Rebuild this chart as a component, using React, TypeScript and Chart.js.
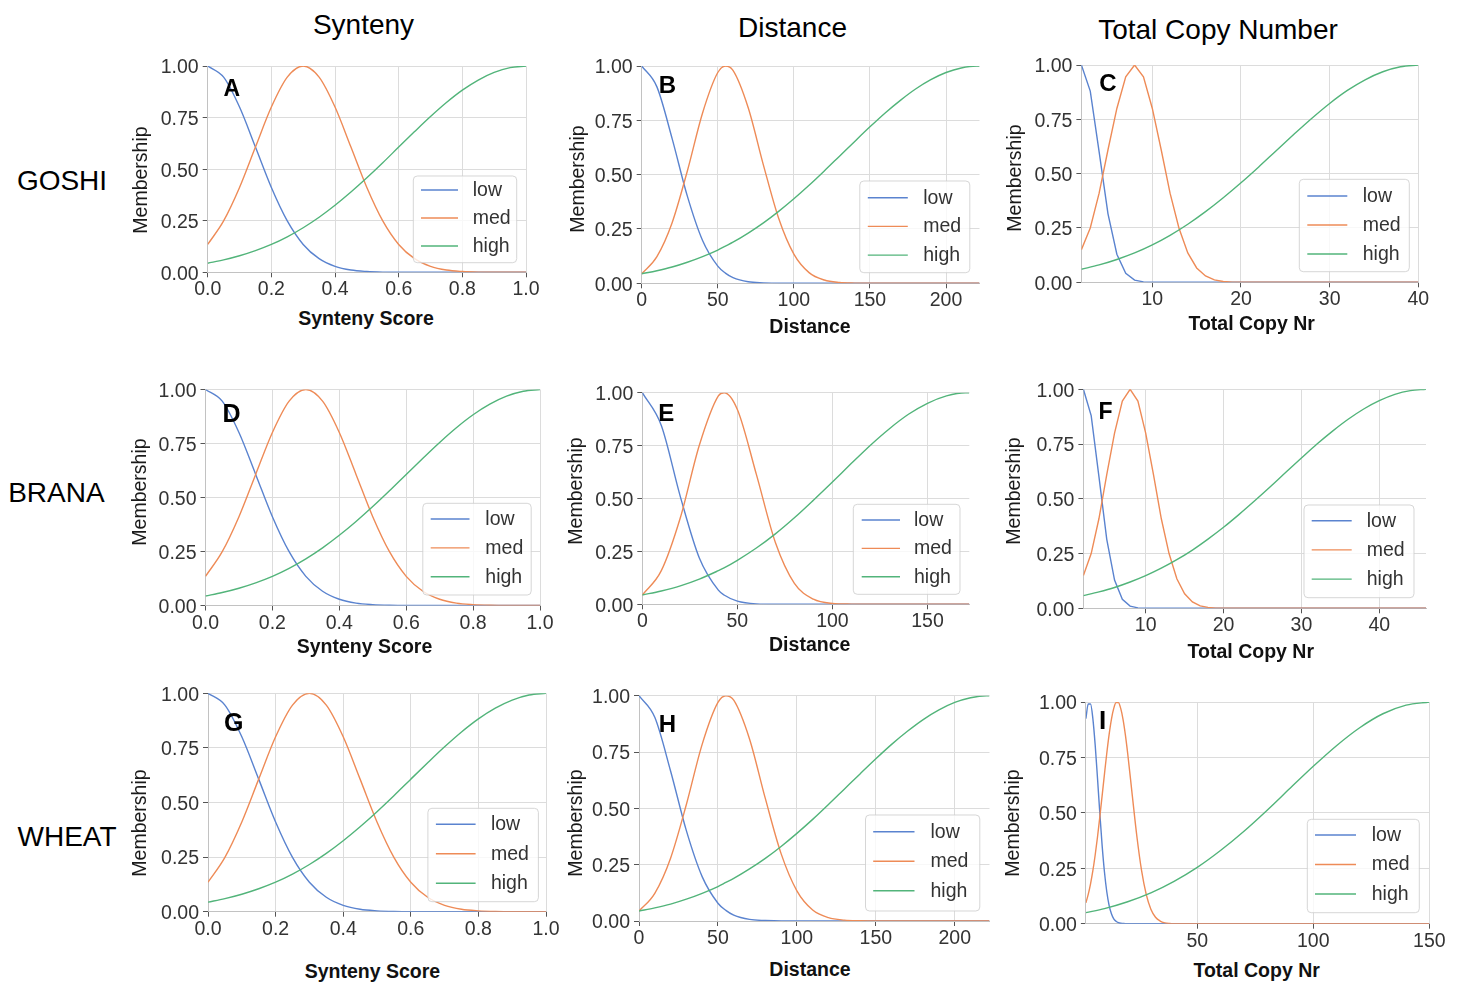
import React, { useEffect, useRef } from "react";
import { Chart, registerables } from "chart.js";

Chart.register(...registerables);

const FONT = "'Liberation Sans', Arial, Helvetica, sans-serif";

// ---------- Synteny score (same membership functions for GOSHI / BRANA / WHEAT) ----------
const SYN_X = [0, 0.05, 0.1, 0.15, 0.2, 0.25, 0.3, 0.35, 0.4, 0.45, 0.5, 0.55, 0.6, 0.65, 0.7, 0.75, 0.8, 0.85, 0.9, 0.95, 1.0];
const SYN_LOW = [1, 0.946, 0.801, 0.607, 0.411, 0.249, 0.135, 0.066, 0.029, 0.011, 0.004, 0.001, 0, 0, 0, 0, 0, 0, 0, 0, 0];
const SYN_MED = [0.135, 0.249, 0.411, 0.607, 0.801, 0.946, 1, 0.946, 0.801, 0.607, 0.411, 0.249, 0.135, 0.066, 0.029, 0.011, 0.004, 0.001, 0, 0, 0];
const SYN_HIGH = [0.044, 0.06, 0.08, 0.105, 0.135, 0.172, 0.216, 0.267, 0.325, 0.389, 0.458, 0.531, 0.607, 0.682, 0.755, 0.823, 0.883, 0.932, 0.969, 0.992, 1];
const SYN_TICKS = [0, 0.2, 0.4, 0.6, 0.8, 1.0];

// ---------- Distance, GOSHI and WHEAT ----------
const DIST_GW_X = [0, 10, 20, 30, 40, 50, 55, 60, 70, 80, 90, 100, 110, 120, 130, 140, 150, 160, 170, 180, 190, 200, 210, 220, 222];
const DIST_GW_LOW = [1, 0.904, 0.666, 0.401, 0.197, 0.079, 0.047, 0.026, 0.007, 0.002, 0, 0, 0, 0, 0, 0, 0, 0, 0, 0, 0, 0, 0, 0, 0];
const DIST_GW_MED = [0.044, 0.123, 0.279, 0.517, 0.784, 0.97, 1, 0.98, 0.808, 0.544, 0.299, 0.134, 0.049, 0.015, 0.004, 0.001, 0, 0, 0, 0, 0, 0, 0, 0, 0];
const DIST_GW_HIGH = [0.044, 0.058, 0.075, 0.097, 0.123, 0.153, 0.171, 0.189, 0.231, 0.278, 0.331, 0.389, 0.451, 0.517, 0.585, 0.653, 0.72, 0.784, 0.842, 0.894, 0.937, 0.97, 0.991, 1, 1];
const DIST_GW_TICKS = [0, 50, 100, 150, 200];

// ---------- Distance, BRANA ----------
const DIST_BR_X = [0, 10, 20, 30, 40, 43, 50, 60, 70, 80, 90, 100, 110, 120, 130, 140, 150, 160, 170, 172];
const DIST_BR_LOW = [1, 0.845, 0.509, 0.219, 0.067, 0.044, 0.015, 0.002, 0, 0, 0, 0, 0, 0, 0, 0, 0, 0, 0, 0];
const DIST_BR_MED = [0.044, 0.159, 0.409, 0.752, 0.985, 1, 0.921, 0.614, 0.292, 0.099, 0.024, 0.004, 0.001, 0, 0, 0, 0, 0, 0, 0];
const DIST_BR_HIGH = [0.044, 0.063, 0.087, 0.119, 0.159, 0.172, 0.208, 0.266, 0.333, 0.409, 0.492, 0.578, 0.666, 0.752, 0.83, 0.898, 0.95, 0.985, 1, 1];
const DIST_BR_TICKS = [0, 50, 100, 150];

// ---------- Total copy number, GOSHI ----------
const CN_GO_LM_X = [2, 3, 4, 5, 6, 7, 8, 9, 10, 11, 12, 13, 14, 15, 16, 17, 18, 19, 20, 40];
const CN_GO_LOW = [1, 0.88, 0.6, 0.315, 0.129, 0.041, 0.01, 0.002, 0, 0, 0, 0, 0, 0, 0, 0, 0, 0, 0, 0];
const CN_GO_MED = [0.15, 0.25, 0.41, 0.61, 0.8, 0.946, 1, 0.946, 0.8, 0.61, 0.41, 0.25, 0.135, 0.066, 0.029, 0.011, 0.004, 0.001, 0, 0];
const CN_GO_H_X = [2, 4, 6, 8, 10, 12, 14, 16, 18, 20, 22, 24, 26, 28, 30, 32, 34, 36, 38, 40];
const CN_GO_HIGH = [0.06, 0.08, 0.105, 0.135, 0.172, 0.216, 0.267, 0.325, 0.389, 0.458, 0.531, 0.607, 0.682, 0.755, 0.823, 0.883, 0.932, 0.969, 0.992, 1];
const CN_GO_TICKS = [10, 20, 30, 40];

// ---------- Total copy number, BRANA ----------
const CN_BR_LM_X = [2, 3, 4, 5, 6, 7, 8, 9, 10, 11, 12, 13, 14, 15, 16, 17, 18, 19, 20, 46];
const CN_BR_LOW = [1, 0.88, 0.6, 0.315, 0.129, 0.041, 0.01, 0.002, 0, 0, 0, 0, 0, 0, 0, 0, 0, 0, 0, 0];
const CN_BR_MED = [0.15, 0.25, 0.41, 0.61, 0.8, 0.946, 1, 0.946, 0.8, 0.61, 0.41, 0.25, 0.135, 0.066, 0.029, 0.011, 0.004, 0.001, 0, 0];
const CN_BR_H_X = [2, 4, 6, 8, 10, 12, 14, 16, 18, 20, 22, 24, 26, 28, 30, 32, 34, 36, 38, 40, 42, 44, 46];
const CN_BR_HIGH = [0.058, 0.075, 0.095, 0.12, 0.149, 0.183, 0.222, 0.266, 0.316, 0.37, 0.429, 0.491, 0.555, 0.621, 0.686, 0.75, 0.809, 0.863, 0.91, 0.948, 0.977, 0.994, 1];
const CN_BR_TICKS = [10, 20, 30, 40];

// ---------- Total copy number, WHEAT ----------
const CN_WH_LM_X = [2, 3, 4, 5, 6, 7, 8, 9, 10, 11, 12, 13, 14, 15, 16, 17, 18, 19, 20, 22, 24, 26, 28, 30, 32, 34, 36, 38, 40, 150];
const CN_WH_LOW = [0.925, 0.991, 0.991, 0.925, 0.806, 0.656, 0.498, 0.352, 0.233, 0.144, 0.083, 0.045, 0.022, 0.011, 0.005, 0.002, 0.001, 0, 0, 0, 0, 0, 0, 0, 0, 0, 0, 0, 0, 0];
const CN_WH_MED = [0.094, 0.132, 0.18, 0.239, 0.31, 0.391, 0.482, 0.578, 0.675, 0.769, 0.853, 0.922, 0.971, 0.997, 0.997, 0.971, 0.922, 0.853, 0.769, 0.578, 0.391, 0.239, 0.132, 0.065, 0.029, 0.012, 0.004, 0.001, 0, 0];
const CN_WH_H_X = [2, 10, 20, 30, 40, 50, 60, 70, 80, 90, 100, 110, 120, 130, 140, 150];
const CN_WH_HIGH = [0.05, 0.068, 0.099, 0.139, 0.191, 0.254, 0.33, 0.416, 0.511, 0.611, 0.71, 0.803, 0.884, 0.947, 0.986, 1];
const CN_WH_TICKS = [50, 100, 150];

const SERIES_LABELS = ["low", "med", "high"];
const Y_TICKS = [0, 0.25, 0.5, 0.75, 1.0];

const COLORS = ["#5a83cf", "#ee8b57", "#52b47a"];
const GRID = "#dcdcdc";
const SPINE = "#c2c2c2";
const TICK = "#555555";
const TEXT = "#333333";

const COL_TITLES = [
  { text: "Synteny", x: 363.5, y: 24.5 },
  { text: "Distance", x: 792.5, y: 27.5 },
  { text: "Total Copy Number", x: 1218, y: 29.5 },
];
const ROW_TITLES = [
  { text: "GOSHI", x: 62, y: 180.5 },
  { text: "BRANA", x: 56.4, y: 492.5 },
  { text: "WHEAT", x: 67, y: 836.7 },
];

type Legend = { w: number; h: number; gapR: number; gapB: number; row0: number; rowStep: number; l0: number; l1: number; tx: number };
type Panel = {
  letter: string;
  letterPos: [number, number];
  letterSize: number;
  plot: [number, number, number, number];
  xMin: number;
  xMax: number;
  xTicks: number[];
  xDec: number;
  xTitle: string;
  xTitlePos: [number, number];
  yTitlePos: [number, number];
  xs: number[][];
  ys: number[][];
  linearLM: boolean;
  legend: Legend;
};

const PANELS: Panel[] = [
  {
    letter: "A", letterPos: [231.7, 87.5], letterSize: 23, plot: [207.7, 526, 66, 272.3],
    xMin: 0, xMax: 1, xTicks: SYN_TICKS, xDec: 1, xTitle: "Synteny Score", xTitlePos: [366, 319], yTitlePos: [140.5, 180],
    xs: [SYN_X, SYN_X, SYN_X], ys: [SYN_LOW, SYN_MED, SYN_HIGH], linearLM: false,
    legend: { w: 103.4, h: 86.7, gapR: 9.3, gapB: 9.6, row0: 14, rowStep: 28, l0: 7.7, l1: 44.7, tx: 59.4 },
  },
  {
    letter: "B", letterPos: [667.5, 85.3], letterSize: 24, plot: [641.7, 979.5, 66, 283.3],
    xMin: 0, xMax: 222, xTicks: DIST_GW_TICKS, xDec: 0, xTitle: "Distance", xTitlePos: [810, 327.3], yTitlePos: [577.5, 178.5],
    xs: [DIST_GW_X, DIST_GW_X, DIST_GW_X], ys: [DIST_GW_LOW, DIST_GW_MED, DIST_GW_HIGH], linearLM: false,
    legend: { w: 110, h: 91.7, gapR: 9.7, gapB: 10.6, row0: 16.7, rowStep: 28.7, l0: 8, l1: 48, tx: 63.4 },
  },
  {
    letter: "C", letterPos: [1107.8, 83.3], letterSize: 24, plot: [1081.4, 1418.3, 65, 282.3],
    xMin: 2, xMax: 40, xTicks: CN_GO_TICKS, xDec: 0, xTitle: "Total Copy Nr", xTitlePos: [1251.7, 323.5], yTitlePos: [1015, 178],
    xs: [CN_GO_LM_X, CN_GO_LM_X, CN_GO_H_X], ys: [CN_GO_LOW, CN_GO_MED, CN_GO_HIGH], linearLM: true,
    legend: { w: 110, h: 92.4, gapR: 9, gapB: 10.6, row0: 16.7, rowStep: 29, l0: 8, l1: 48, tx: 63.4 },
  },
  {
    letter: "D", letterPos: [231.5, 412.5], letterSize: 25, plot: [205.5, 540, 389.5, 605.5],
    xMin: 0, xMax: 1, xTicks: SYN_TICKS, xDec: 1, xTitle: "Synteny Score", xTitlePos: [364.5, 647], yTitlePos: [140, 491.5],
    xs: [SYN_X, SYN_X, SYN_X], ys: [SYN_LOW, SYN_MED, SYN_HIGH], linearLM: false,
    legend: { w: 108.4, h: 91.7, gapR: 8.8, gapB: 10.5, row0: 15.7, rowStep: 28.9, l0: 7.9, l1: 46.7, tx: 62.5 },
  },
  {
    letter: "E", letterPos: [666.2, 413], letterSize: 24, plot: [642.3, 969.3, 392.7, 604.3],
    xMin: 0, xMax: 172, xTicks: DIST_BR_TICKS, xDec: 0, xTitle: "Distance", xTitlePos: [809.7, 645], yTitlePos: [575.8, 491],
    xs: [DIST_BR_X, DIST_BR_X, DIST_BR_X], ys: [DIST_BR_LOW, DIST_BR_MED, DIST_BR_HIGH], linearLM: false,
    legend: { w: 106.7, h: 90, gapR: 9.3, gapB: 10, row0: 15.7, rowStep: 28.4, l0: 8.4, l1: 46.7, tx: 60.7 },
  },
  {
    letter: "F", letterPos: [1105.5, 410.7], letterSize: 23, plot: [1083.4, 1426, 389.3, 608.3],
    xMin: 2, xMax: 46, xTicks: CN_BR_TICKS, xDec: 0, xTitle: "Total Copy Nr", xTitlePos: [1250.8, 651.7], yTitlePos: [1014, 491],
    xs: [CN_BR_LM_X, CN_BR_LM_X, CN_BR_H_X], ys: [CN_BR_LOW, CN_BR_MED, CN_BR_HIGH], linearLM: true,
    legend: { w: 110, h: 92.7, gapR: 12, gapB: 10.6, row0: 15.7, rowStep: 29.2, l0: 7.7, l1: 47.7, tx: 62.7 },
  },
  {
    letter: "G", letterPos: [233.7, 722.2], letterSize: 25, plot: [208, 546, 693.3, 911.7],
    xMin: 0, xMax: 1, xTicks: SYN_TICKS, xDec: 1, xTitle: "Synteny Score", xTitlePos: [372.4, 971.7], yTitlePos: [139.6, 823],
    xs: [SYN_X, SYN_X, SYN_X], ys: [SYN_LOW, SYN_MED, SYN_HIGH], linearLM: false,
    legend: { w: 110.5, h: 93.4, gapR: 7.6, gapB: 10, row0: 16, rowStep: 29.5, l0: 8, l1: 47.7, tx: 63 },
  },
  {
    letter: "H", letterPos: [667.5, 723.7], letterSize: 24, plot: [639, 989.5, 695.7, 921],
    xMin: 0, xMax: 222, xTicks: DIST_GW_TICKS, xDec: 0, xTitle: "Distance", xTitlePos: [810, 970], yTitlePos: [575.8, 823],
    xs: [DIST_GW_X, DIST_GW_X, DIST_GW_X], ys: [DIST_GW_LOW, DIST_GW_MED, DIST_GW_HIGH], linearLM: false,
    legend: { w: 114.3, h: 96, gapR: 9.7, gapB: 10, row0: 16.7, rowStep: 29.5, l0: 7.7, l1: 49, tx: 65 },
  },
  {
    letter: "I", letterPos: [1102.5, 720.3], letterSize: 26, plot: [1085.9, 1429.3, 702, 923.7],
    xMin: 2, xMax: 150, xTicks: CN_WH_TICKS, xDec: 0, xTitle: "Total Copy Nr", xTitlePos: [1256.7, 970.7], yTitlePos: [1013, 823],
    xs: [CN_WH_LM_X, CN_WH_LM_X, CN_WH_H_X], ys: [CN_WH_LOW, CN_WH_MED, CN_WH_HIGH], linearLM: false,
    legend: { w: 112, h: 93.4, gapR: 10, gapB: 11, row0: 15.7, rowStep: 29.5, l0: 7.7, l1: 48.7, tx: 64.4 },
  },
];

const legendBoxPlugin = {
  id: "legendBox",
  afterDatasetsDraw(chart: any, _args: any, opts: any) {
    const { ctx, chartArea } = chart;
    const lg: Legend = opts.cfg;
    if (!lg) return;
    const x = chartArea.right - lg.gapR - lg.w;
    const y = chartArea.bottom - lg.gapB - lg.h;
    ctx.save();
    ctx.beginPath();
    if (ctx.roundRect) ctx.roundRect(x, y, lg.w, lg.h, 4);
    else ctx.rect(x, y, lg.w, lg.h);
    ctx.fillStyle = "rgba(255,255,255,0.8)";
    ctx.fill();
    ctx.strokeStyle = "rgba(204,204,204,0.8)";
    ctx.lineWidth = 1;
    ctx.stroke();
    chart.data.datasets.forEach((ds: any, i: number) => {
      const cy = y + lg.row0 + i * lg.rowStep;
      ctx.beginPath();
      ctx.strokeStyle = ds.borderColor;
      ctx.lineWidth = 1.4;
      ctx.moveTo(x + lg.l0, cy);
      ctx.lineTo(x + lg.l1, cy);
      ctx.stroke();
      ctx.fillStyle = TEXT;
      ctx.font = `19.5px ${FONT}`;
      ctx.textBaseline = "middle";
      ctx.textAlign = "left";
      ctx.fillText(ds.label, x + lg.tx, cy + 0.5);
    });
    ctx.restore();
  },
};

function PanelChart({ p }: { p: Panel }) {
  const ref = useRef<HTMLCanvasElement | null>(null);
  const [pl, pr, pt, pb] = p.plot;
  const cl = Math.floor(pl - 60);
  const ct = Math.floor(pt - 16);
  const cr = Math.ceil(pr + 24);
  const cb = Math.ceil(pb + 34);
  const w = cr - cl;
  const h = cb - ct;

  useEffect(() => {
    if (!ref.current) return;
    const yW = pl - cl;
    const xH = cb - pb;
    const datasets = SERIES_LABELS.map((label, i) => {
      const linear = p.linearLM && i < 2;
      return {
        label,
        data: p.xs[i].map((x, k) => ({ x, y: p.ys[i][k] })),
        borderColor: COLORS[i],
        backgroundColor: COLORS[i],
        borderWidth: 1.4,
        pointRadius: 0,
        pointHoverRadius: 0,
        fill: false,
        tension: 0,
        cubicInterpolationMode: linear ? "default" : "monotone",
        order: 3 - i,
      };
    });
    const tickFont = { family: FONT, size: 19.5 };
    const chart = new Chart(ref.current, {
      type: "line",
      data: { datasets } as any,
      options: {
        responsive: false,
        animation: false,
        devicePixelRatio: 1,
        events: [],
        layout: { padding: { top: pt - ct, right: cr - pr, left: 0, bottom: 0 } },
        plugins: {
          legend: { display: false },
          tooltip: { enabled: false },
          legendBox: { cfg: p.legend },
        } as any,
        scales: {
          x: {
            type: "linear",
            min: p.xMin,
            max: p.xMax,
            afterBuildTicks: (s: any) => {
              s.ticks = p.xTicks.map((v) => ({ value: v }));
            },
            ticks: {
              autoSkip: false,
              maxRotation: 0,
              color: TEXT,
              font: tickFont,
              padding: 1,
              callback: (v: any) => Number(v).toFixed(p.xDec),
            },
            grid: { color: GRID, lineWidth: 1, drawTicks: true, tickLength: 5, tickColor: TICK, tickWidth: 1 },
            border: { display: true, color: SPINE, width: 1 },
            afterFit: (s: any) => {
              s.height = xH;
            },
          },
          y: {
            type: "linear",
            min: 0,
            max: 1,
            afterBuildTicks: (s: any) => {
              s.ticks = Y_TICKS.map((v) => ({ value: v }));
            },
            ticks: {
              color: TEXT,
              font: tickFont,
              padding: 4,
              labelOffset: 2,
              callback: (v: any) => Number(v).toFixed(2),
            },
            grid: { color: GRID, lineWidth: 1, drawTicks: true, tickLength: 5, tickColor: TICK, tickWidth: 1 },
            border: { display: true, color: SPINE, width: 1 },
            afterFit: (s: any) => {
              s.width = yW;
            },
          },
        },
      } as any,
      plugins: [legendBoxPlugin as any],
    });
    return () => chart.destroy();
  }, []);

  return (
    <canvas
      ref={ref}
      width={w}
      height={h}
      style={{ position: "absolute", left: cl, top: ct, width: w, height: h }}
    />
  );
}

function Label(props: { text: string; x: number; y: number; size: number; bold?: boolean; rotate?: boolean; color?: string }) {
  const { text, x, y, size, bold, rotate, color } = props;
  return (
    <div
      style={{
        position: "absolute",
        left: x,
        top: y,
        transform: `translate(-50%, -50%)${rotate ? " rotate(-90deg)" : ""}`,
        fontFamily: FONT,
        fontSize: size,
        fontWeight: bold ? 700 : 400,
        lineHeight: 1,
        whiteSpace: "nowrap",
        color: color || "#000",
        pointerEvents: "none",
      }}
    >
      {text}
    </div>
  );
}

export default function App() {
  return (
    <div
      style={{
        position: "fixed",
        left: 0,
        top: 0,
        width: 1462,
        height: 983,
        background: "#ffffff",
        overflow: "hidden",
      }}
    >
      {PANELS.map((p) => (
        <PanelChart key={p.letter} p={p} />
      ))}
      {COL_TITLES.map((t) => (
        <Label key={t.text} text={t.text} x={t.x} y={t.y} size={28} />
      ))}
      {ROW_TITLES.map((t) => (
        <Label key={t.text} text={t.text} x={t.x} y={t.y} size={28} />
      ))}
      {PANELS.map((p) => (
        <React.Fragment key={"t" + p.letter}>
          <Label text={p.letter} x={p.letterPos[0]} y={p.letterPos[1]} size={p.letterSize} bold />
          <Label text="Membership" x={p.yTitlePos[0]} y={p.yTitlePos[1]} size={19.5} rotate color="#1a1a1a" />
          <Label text={p.xTitle} x={p.xTitlePos[0]} y={p.xTitlePos[1]} size={19.5} bold color="#111" />
        </React.Fragment>
      ))}
    </div>
  );
}
